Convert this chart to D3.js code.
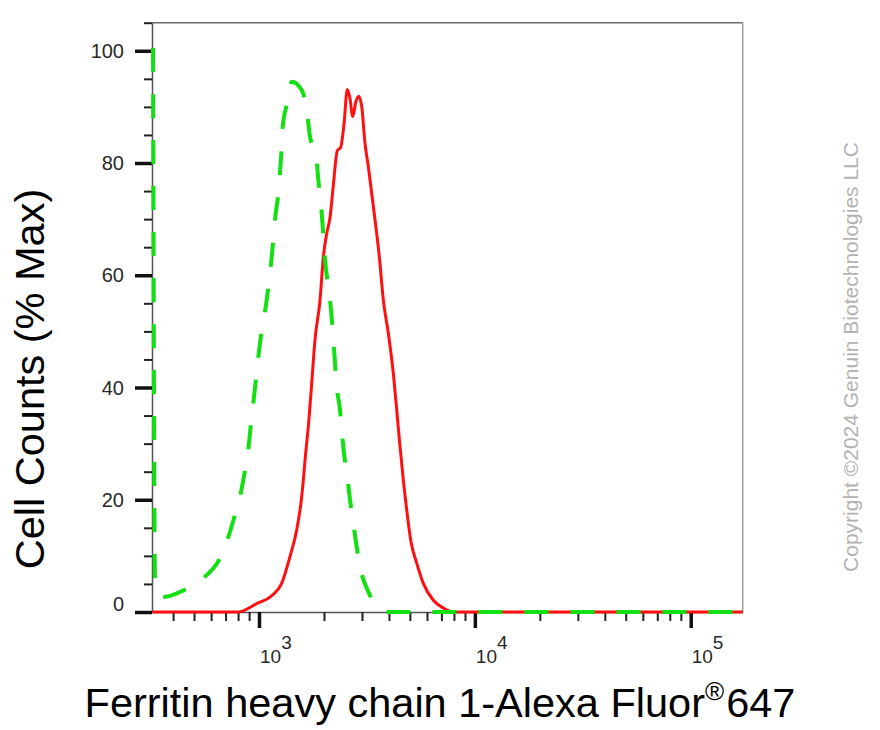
<!DOCTYPE html>
<html>
<head>
<meta charset="utf-8">
<script src="https://cdn.jsdelivr.net/npm/d3@7"></script>
<style>
  html, body { margin: 0; padding: 0; background: #fff; }
  svg { display: block; }
</style>
</head>
<body>
<svg id="chart" width="880" height="730"></svg>
<script>
// ---- data ----
// Stained sample (red, solid): fluorescence intensity and % of max
const redIntensity = [320, 533, 802, 976, 1145, 1274, 1392, 1495, 1577, 1651, 1692, 1755, 1817, 1918, 1987, 2060, 2133, 2203, 2306, 2391, 2476, 2565, 2640, 2717, 2814, 2897, 2991, 3098, 3209, 3327, 3447, 3609, 3766, 3972, 4191, 4345, 4501, 4662, 4834, 5044, 5379, 5770, 6421, 7143, 7947, 20000, 60000, 174000];
const redCount = [0, 0, 0, 1.5, 2.9, 5.1, 9.9, 14.6, 20.5, 28.9, 33, 40.8, 48.5, 55.6, 63.3, 67.5, 70.3, 75.5, 82.2, 82.8, 86.9, 93.1, 91.5, 88.3, 91, 91.9, 90.1, 83.5, 79.4, 74.6, 69.9, 63.3, 55.6, 49.7, 42.5, 36, 29.5, 23.5, 18.2, 12.8, 8.7, 5.1, 2.1, 0.7, 0, 0, 0, 0];

// Isotype control (green, dashed)
const greenIntensity = [323, 330, 348, 367, 408, 475, 562, 660, 721, 774, 817, 862, 892, 918, 941, 969, 993, 1029, 1066, 1165, 1186, 1229, 1251, 1274, 1288, 1352, 1418, 1577, 1664, 1723, 1837, 1883, 1932, 1973, 2001, 2172, 2210, 2250, 2291, 2373, 2416, 2476, 2565, 2640, 2735, 2835, 2937, 3209, 3636, 3835, 20000, 60000, 174000];
const greenCount = [100.5, 5, 3, 2.7, 3.2, 4.4, 6.3, 9.6, 13.4, 17.3, 20.6, 25.3, 28.9, 33.6, 37.2, 41.6, 45.5, 50, 53.5, 66.3, 69.9, 74.6, 78.2, 82.9, 86.5, 90.7, 94.5, 93, 89.5, 84.7, 81.5, 77, 73.1, 68.7, 65.1, 52.4, 48.5, 44.3, 40.2, 36, 32.4, 28.3, 24.1, 20, 15.8, 11.6, 8.1, 3.6, 0.7, 0, 0, 0, 0];

// axes
const xMajorTicks = [1000, 10000, 100000];
const xMajorExponents = ["3", "4", "5"];
const xMinorTicks = [400, 500, 600, 700, 800, 900, 2000, 3000, 4000, 5000, 6000, 7000, 8000, 9000, 20000, 30000, 40000, 50000, 60000, 70000, 80000, 90000];
const yMajorTicks = [0, 20, 40, 60, 80, 100];
const yMinorTicks = [5, 10, 15, 25, 30, 35, 45, 50, 55, 65, 70, 75, 85, 90, 95, 105];
const xTitleMain = "Ferritin heavy chain 1-Alexa Fluor";
const xTitleSup = "®";
const xTitleEnd = "647";
const yTitle = "Cell Counts (% Max)";
const copyright = "Copyright ©2024 Genuin Biotechnologies LLC";

// ---- drawing ----
const svg = d3.select("#chart");
const pLeft = 152, pRight = 742.7, pTop = 22.7, pBottom = 612;

const x = d3.scaleLog().domain([319.4, 174100]).range([pLeft, pRight]);
const y = d3.scaleLinear().domain([0, 105]).range([pBottom, pTop]);

const font = "'Liberation Sans', Arial, Helvetica, sans-serif";

// frame (top and right)
svg.append("line").attr("x1", pLeft).attr("x2", pRight).attr("y1", pTop).attr("y2", pTop)
  .attr("stroke", "#6a6a6a").attr("stroke-width", 1.5);
svg.append("line").attr("x1", pRight).attr("x2", pRight).attr("y1", pTop).attr("y2", pBottom)
  .attr("stroke", "#9a9a9a").attr("stroke-width", 1.5);

// x axis
const gx = svg.append("g").attr("transform", `translate(0,${pBottom})`);
gx.call(d3.axisBottom(x).tickValues(xMinorTicks).tickSize(9).tickSizeOuter(0).tickFormat(""));
gx.select(".domain").attr("stroke", "#555").attr("stroke-width", 1.5);
gx.selectAll(".tick line").attr("stroke", "#222").attr("stroke-width", 2);
const gxM = svg.append("g").attr("transform", `translate(0,${pBottom})`);
gxM.call(d3.axisBottom(x).tickValues(xMajorTicks).tickSize(16).tickSizeOuter(0).tickFormat(""));
gxM.select(".domain").remove();
gxM.selectAll(".tick line").attr("stroke", "#111").attr("stroke-width", 3.5);

// x tick labels 10^n
const xl = svg.append("g");
xMajorTicks.forEach((v, i) => {
  const t = xl.append("text")
    .attr("x", x(v) + 1).attr("y", 663)
    .attr("font-family", font).attr("font-size", 19).attr("fill", "#2a2a2a");
  t.append("tspan").text("10");
  t.append("tspan").attr("dy", -14).attr("font-size", 19).text(xMajorExponents[i]);
});

// y axis
const gy = svg.append("g").attr("transform", `translate(${pLeft},0)`);
gy.call(d3.axisLeft(y).tickValues(yMinorTicks).tickSize(8).tickSizeOuter(0).tickFormat(""));
gy.select(".domain").attr("stroke", "#555").attr("stroke-width", 1.5);
gy.selectAll(".tick line").attr("stroke", "#222").attr("stroke-width", 2);
const gyM = svg.append("g").attr("transform", `translate(${pLeft},0)`);
gyM.call(d3.axisLeft(y).tickValues(yMajorTicks).tickSize(17).tickSizeOuter(0).tickFormat(""));
gyM.select(".domain").remove();
gyM.selectAll(".tick line").attr("stroke", "#111").attr("stroke-width", 3.5);

svg.append("g").selectAll("text").data(yMajorTicks).join("text")
  .attr("x", 124).attr("y", d => y(d) + (d === 0 ? -8 : 0))
  .attr("dy", "0.36em")
  .attr("text-anchor", "end")
  .attr("font-family", font).attr("font-size", 20).attr("fill", "#2a2a2a")
  .text(d => d);

// curves
const redData = redIntensity.map((v, i) => ({ v, c: redCount[i] }));
const greenData = greenIntensity.map((v, i) => ({ v, c: greenCount[i] }));
const line = d3.line().x(d => x(d.v)).y(d => y(d.c)).curve(d3.curveMonotoneX);

svg.append("path").datum(redData).attr("d", line)
  .attr("fill", "none").attr("stroke", "#ff1010").attr("stroke-width", 3)
  .attr("stroke-linejoin", "round");
svg.append("path").datum(greenData).attr("d", line)
  .attr("fill", "none").attr("stroke", "#12e012").attr("stroke-width", 4)
  .attr("stroke-dasharray", "24,22");

// axis titles
const xt = svg.append("text")
  .attr("x", 440).attr("y", 717).attr("text-anchor", "middle")
  .attr("font-family", font).attr("font-size", 41.5).attr("fill", "#000");
xt.append("tspan").text(xTitleMain);
xt.append("tspan").attr("dy", -17).attr("font-size", 26).text(xTitleSup);
xt.append("tspan").attr("dy", 17).attr("dx", 2).text(xTitleEnd);

svg.append("text")
  .attr("transform", "translate(44,379) rotate(-90)")
  .attr("text-anchor", "middle")
  .attr("font-family", font).attr("font-size", 41.5).attr("fill", "#000")
  .text(yTitle);

svg.append("text")
  .attr("transform", "translate(858,357) rotate(-90)")
  .attr("text-anchor", "middle")
  .attr("font-family", font).attr("font-size", 21).attr("fill", "#b3b3b3")
  .text(copyright);
</script>
</body>
</html>
